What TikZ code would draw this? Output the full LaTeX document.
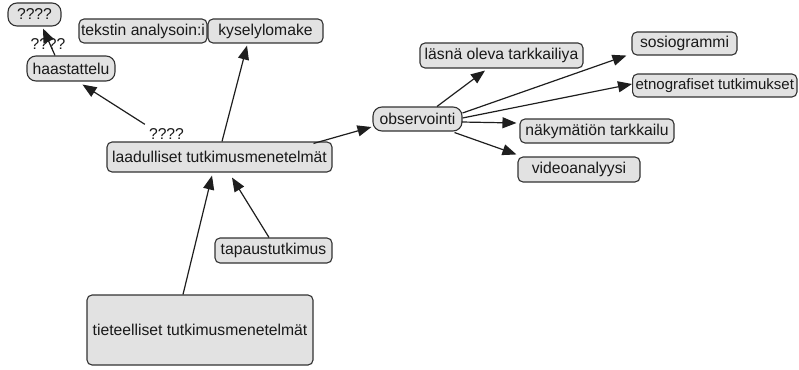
\documentclass[tikz,border=0pt]{standalone}
\usepackage{fontspec}
\setmainfont{Liberation Sans}
\usetikzlibrary{arrows.meta}
\definecolor{boxfill}{RGB}{226,226,226}
\definecolor{boxline}{RGB}{50,50,50}
\definecolor{linkcol}{RGB}{30,30,30}
\begin{document}
\begin{tikzpicture}[x=1pt,y=-1pt,
  concept/.style={draw=boxline, fill=boxfill, line width=1.1pt, rounded corners=5pt,
    inner sep=0pt, font=\fontsize{15.7}{18}\selectfont, text=black!90},
  pill/.style={concept, rounded corners=9pt},
  linklabel/.style={inner sep=1pt, font=\fontsize{15.7}{18}\selectfont, text=black!90},
  arr/.style={draw=linkcol, line width=1.2pt, -{Triangle[length=14pt,width=11pt]}}]
\useasboundingbox (0,0) rectangle (799,369);

% concepts
\node[pill, minimum width=53pt, minimum height=23pt] (q1) at (34.5,14.5) {????};
\node[concept, minimum width=128pt, minimum height=24pt] (teks) at (143,31) {tekstin analysoin:i};
\node[concept, minimum width=115pt, minimum height=24pt] (kys) at (265.5,31) {kyselylomake};
\node[pill, minimum width=88pt, minimum height=25pt] (haas) at (71,68.5) {haastattelu};
\node[concept, minimum width=225pt, minimum height=30pt] (laad) at (219.5,157) {laadulliset tutkimusmenetelmät};
\node[pill, minimum width=89pt, minimum height=24pt] (obs) at (417.5,119) {observointi};
\node[concept, minimum width=163pt, minimum height=25pt] (lasna) at (501.5,55.5) {läsnä oleva tarkkailiya};
\node[concept, minimum width=105pt, minimum height=23pt] (sosio) at (684.5,43.5) {sosiogrammi};
\node[concept, minimum height=23pt, inner xsep=3pt, anchor=west, font=\fontsize{15}{18}\selectfont] (etno) at (632,85.5) {etnografiset tutkimukset\hspace{7pt}};
\node[concept, minimum width=154pt, minimum height=24pt] (naky) at (597,131) {näkymätiön tarkkailu};
\node[concept, minimum width=122pt, minimum height=25pt] (video) at (579,169.5) {videoanalyysi};
\node[concept, minimum width=117pt, minimum height=25pt] (tapaus) at (273.5,250.5) {tapaustutkimus};
\node[concept, minimum width=226pt, minimum height=70pt] (tiet) at (200,330) {tieteelliset tutkimusmenetelmät};

% link labels
\node[linklabel] (l1) at (166.5,134) {????};
\node[linklabel] (l2) at (48,44) {????};

% links
\draw[arr] ([xshift=2.5pt]laad.north) -- ([xshift=-18.5pt,yshift=-2pt]kys.south);
\draw[arr] ([xshift=-3pt,yshift=3pt]l1.north west) -- ([xshift=56pt,yshift=-3pt]haas.south west);
\draw[arr] ([xshift=-16pt]haas.north) -- ([xshift=8.5pt,yshift=-2pt]q1.south);
\draw[arr] ([xshift=-19pt,yshift=-2pt]laad.north east) -- ([xshift=-1pt,yshift=-8pt]obs.west);
\draw[arr] ([xshift=19.5pt]obs.north) -- ([xshift=-16.5pt,yshift=-2pt]lasna.south);
\draw[arr] ([yshift=6pt]obs.east) -- ([xshift=-5pt]sosio.south west);
\draw[arr] ([yshift=1pt]obs.east) -- ([yshift=1.5pt]etno.west);
\draw[arr] ([xshift=-1pt,yshift=-3pt]obs.east) -- ([xshift=-3pt,yshift=8pt]naky.west);
\draw[arr] ([xshift=-8pt,yshift=-1pt]obs.south east) -- ([xshift=-1pt,yshift=2pt]video.north west);
\draw[arr] ([xshift=-4.5pt]tapaus.north) -- ([xshift=12.5pt,yshift=-5pt]laad.south);
\draw[arr] ([xshift=-17pt]tiet.north) -- ([xshift=-7.5pt,yshift=-3pt]laad.south);
\end{tikzpicture}
\end{document}
